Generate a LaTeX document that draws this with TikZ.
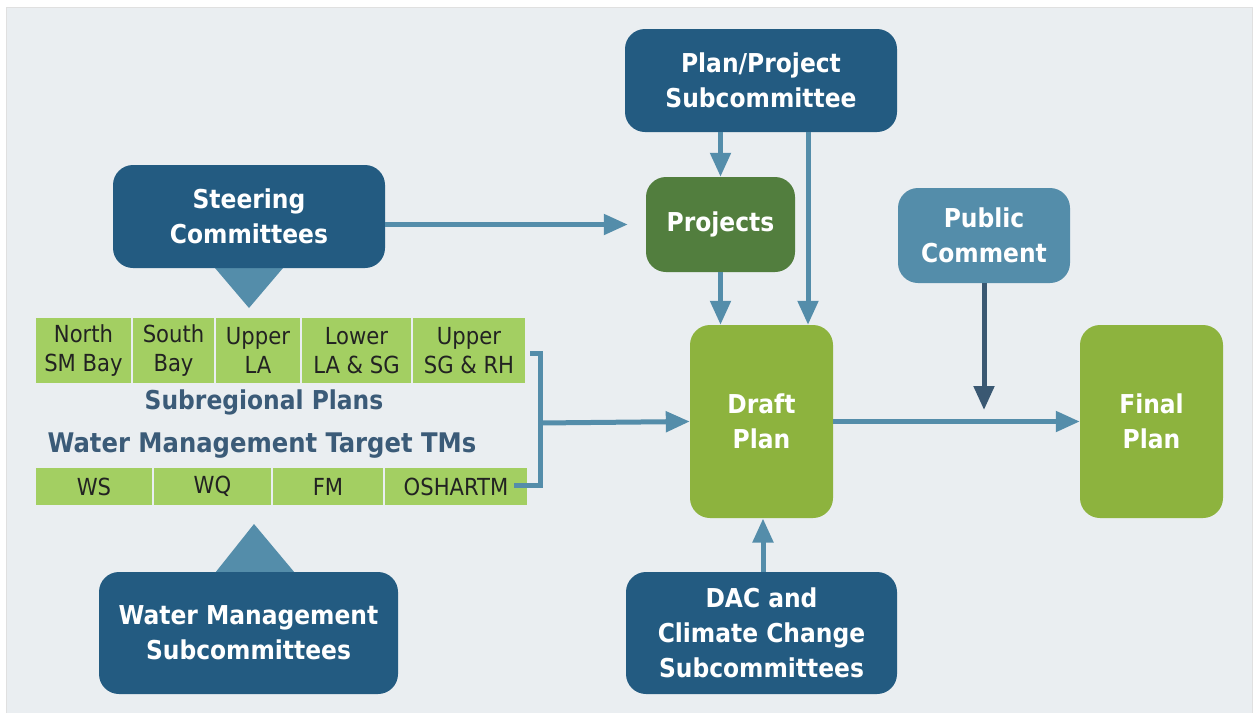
\documentclass[tikz,border=0pt]{standalone}
\usepackage{fontspec}
\setmainfont{DejaVu Sans Condensed}
\usetikzlibrary{arrows.meta,positioning}
\definecolor{dkblue}{HTML}{235B81}
\definecolor{mdblue}{HTML}{548DAA}
\definecolor{arrdk}{HTML}{3A5872}
\definecolor{ltgreen}{HTML}{A3CF62}
\definecolor{olive}{HTML}{8DB33E}
\definecolor{dkgreen}{HTML}{527E3E}
\definecolor{bgc}{HTML}{EAEEF1}
\definecolor{lbl}{HTML}{3B5B78}
\definecolor{celltxt}{HTML}{222222}
\tikzset{
  bigbox/.style={rounded corners=20pt, inner sep=0pt, align=center, text=white, font=\fontsize{26}{35}\selectfont\bfseries},
  cellbox/.style={fill=ltgreen, draw=bgc, line width=2pt, inner sep=0pt, align=center, text=celltxt, font=\fontsize{23.5}{29}\selectfont},
  conn/.style={draw=mdblue, line width=5pt, -{Triangle[width=20pt,length=24pt]}},
  plainconn/.style={draw=mdblue, line width=5pt},
  tri/.style={fill=mdblue},
}
\begin{document}
\begin{tikzpicture}[x=1pt,y=-1pt]
\useasboundingbox (0,0) rectangle (1253,713);
\fill[white] (0,0) rectangle (1253,713);
\fill[bgc] (6,7) rectangle (1253,713);
\draw[color=black!12, line width=1pt] (6,713) -- (6,7) -- (1252,7) -- (1252,713);
% triangles
\fill[tri] (215,268) -- (283,268) -- (249,308) -- cycle;
\fill[tri] (215,573) -- (295,573) -- (254,524) -- cycle;
% boxes
\node[bigbox, fill=dkblue, minimum width=272pt, minimum height=103pt] (steer) at (249,216.5) {Steering\\Committees};
\node[bigbox, fill=dkblue, minimum width=299pt, minimum height=122pt] (wms) at (248.5,633) {Water Management\\Subcommittees};
\node[bigbox, fill=dkblue, minimum width=272pt, minimum height=103pt] (pps) at (761,80.5) {Plan/Project\\Subcommittee};
\node[bigbox, fill=dkgreen, minimum width=149pt, minimum height=95pt] (proj) at (720.5,224.5) {Projects};
\node[bigbox, fill=olive, minimum width=143pt, minimum height=193pt] (draft) at (761.5,421.5) {Draft\\Plan};
\node[bigbox, fill=olive, minimum width=143pt, minimum height=193pt] (final) at (1151.5,421.5) {Final\\Plan};
\node[bigbox, fill=mdblue, minimum width=172pt, minimum height=95pt] (pub) at (984,235.5) {Public\\Comment};
\node[bigbox, fill=dkblue, minimum width=271pt, minimum height=122pt] (dac) at (761.5,633) {DAC and\\Climate Change\\Subcommittees};
% subregional cells
\node[cellbox, minimum width=97pt, minimum height=67pt] (c1) at (83.5,350.5) {North\\SM Bay};
\node[cellbox, minimum width=83pt, minimum height=67pt] (c2) at (173.5,350.5) {South\\Bay};
\node[cellbox, minimum width=86pt, minimum height=67pt] (c3) at (258,350.5) {Upper\\LA};
\node[cellbox, minimum width=111pt, minimum height=67pt] (c4) at (356.5,350.5) {Lower\\LA \& SG};
\node[cellbox, minimum width=114pt, minimum height=67pt] (c5) at (469,350.5) {Upper\\SG \& RH};
\node[text=lbl, font=\fontsize{26}{30}\selectfont\bfseries] (subl) at (264,402) {Subregional Plans};
\node[text=lbl, font=\fontsize{27}{32}\selectfont\bfseries] (wmtl) at (262,446) {Water Management Target TMs};
\node[cellbox, minimum width=118pt, minimum height=39pt] (t1) at (94,486.5) {WS};
\node[cellbox, minimum width=119pt, minimum height=39pt] (t2) at (212.5,486.5) {WQ};
\node[cellbox, minimum width=112pt, minimum height=39pt] (t3) at (328,486.5) {FM};
\node[cellbox, minimum width=144pt, minimum height=39pt] (t4) at (456,486.5) {OSHARTM};
% bracket
\coordinate (bk) at (540,423);
\draw[plainconn] ([xshift=3pt,yshift=-2.5pt]c5.east) -| (bk) |- ([xshift=-15pt,yshift=1.5pt]t4.east);
\draw[conn] (bk) -- (draft.west);
% arrows
\draw[conn, shorten >=18pt] (steer.east |- proj.west) -- (proj.west);
\draw[conn] (pps.south -| proj.north) -- (proj.north);
\draw[conn] (proj.south) -- (proj.south |- draft.north);
\draw[conn] ([xshift=47pt]pps.south) -- ([xshift=47pt]pps.south |- draft.north);
\draw[conn] (draft.east) -- (final.west);
\draw[conn] (dac.north -| 763,0) -- (763,518.5);
\coordinate (pcend) at (984,410);
\draw[draw=arrdk, line width=5pt, -{Triangle[width=20pt,length=24pt]}] (pub.south) -- (pcend);
\end{tikzpicture}
\end{document}
